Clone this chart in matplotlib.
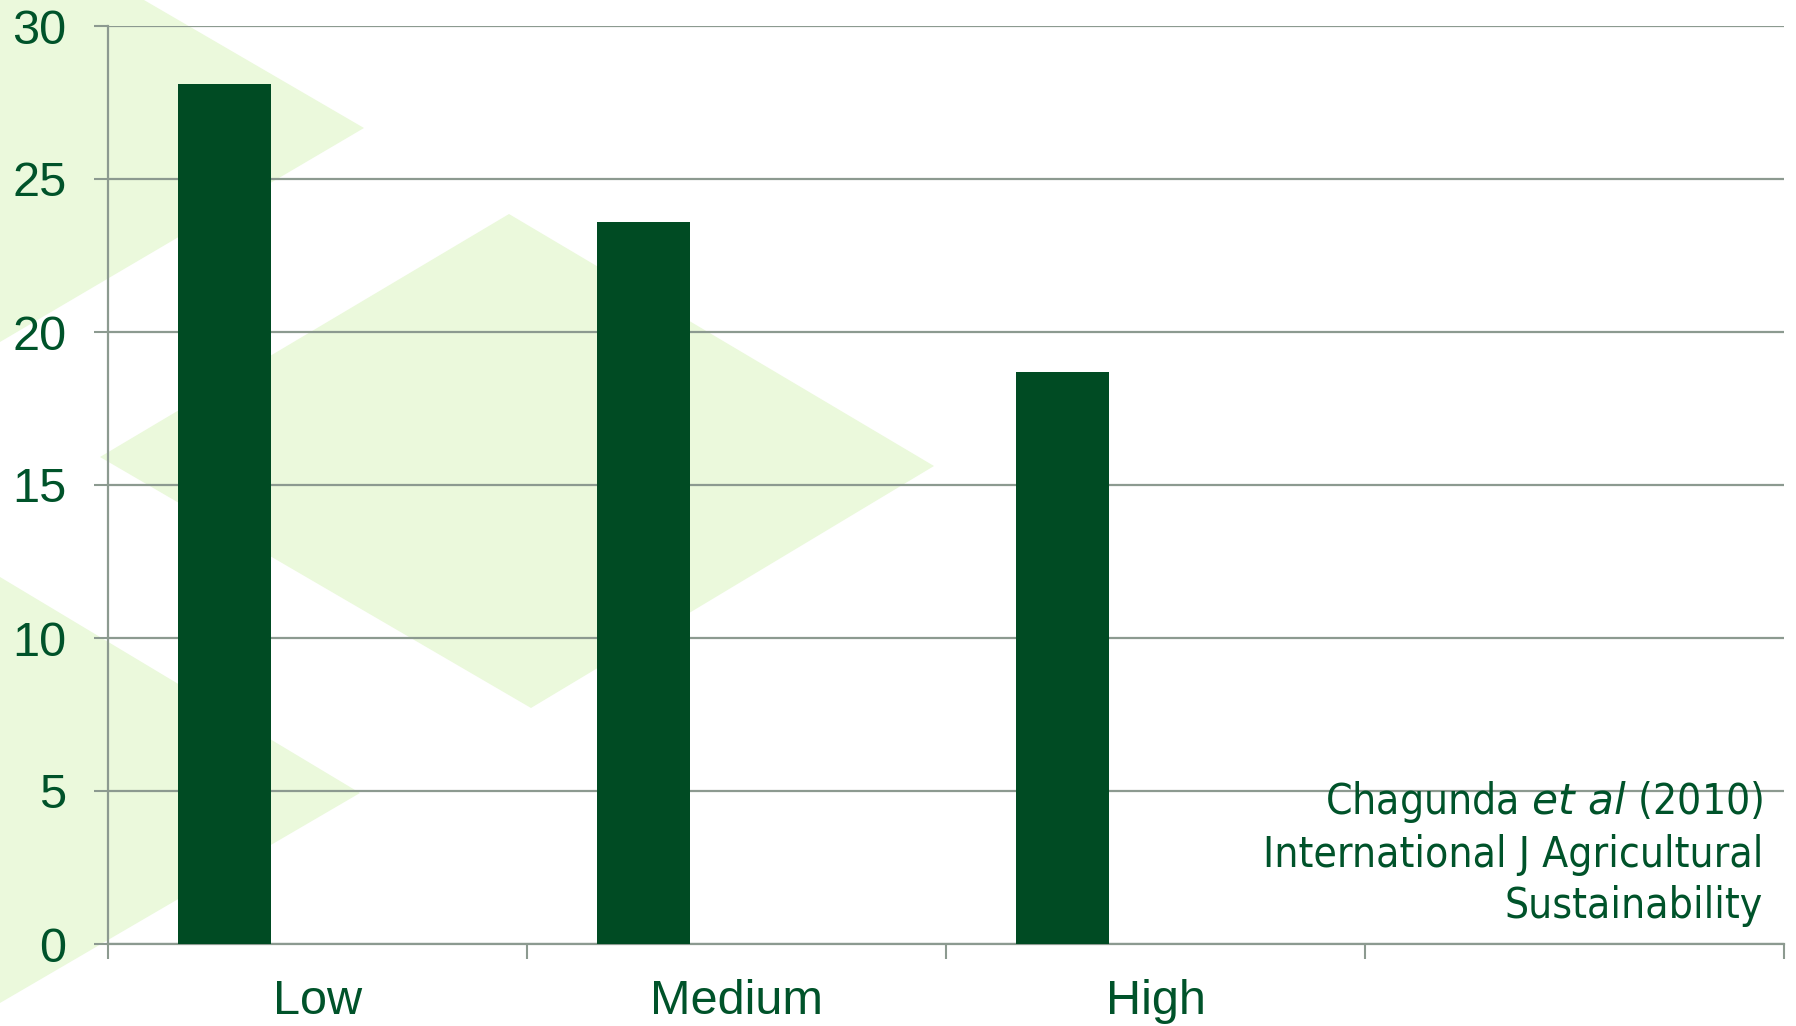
import numpy as np
import matplotlib
matplotlib.use("Agg")
import matplotlib.pyplot as plt
from matplotlib.patches import Polygon

categories = ["Low", "Medium", "High", ""]
values = [28.1, 23.6, 18.7]
yticks = [0, 5, 10, 15, 20, 25, 30]

W, H = 1796, 1026
dark = "#004B23"
text_col = "#00532A"
grid_col = "#8C9A90"
pale = "#EBF9DC"

fig = plt.figure(figsize=(W / 100, H / 100), dpi=100)
fig.patch.set_facecolor("white")


def px(pts):
    # pixel coords (from top left) -> figure fraction
    return [(x / W, 1 - y / H) for x, y in pts]


# pale chevron shapes behind the chart
shapes = [
    [(0, 0), (144, 0), (364, 128), (0, 342)],
    [(509, 214), (934, 466), (531, 708), (100, 457)],
    [(0, 577), (360, 793), (0, 1003)],
]
for s in shapes:
    fig.patches.append(Polygon(px(s), closed=True, transform=fig.transFigure,
                               facecolor=pale, edgecolor="none", zorder=-5))

ax = fig.add_axes([108 / W, 1 - 944 / H, (1784 - 108) / W, (944 - 26) / H])
ax.set_facecolor("none")
ax.set_zorder(1)

x = np.arange(len(values))
bw = 0.222
ax.bar(x - bw, values, width=bw, color=dark, zorder=3)

ax.set_xlim(-0.5, len(categories) - 0.5)
ax.set_ylim(0, 30)
ax.set_yticks(yticks)
ax.set_yticklabels([str(t) for t in yticks])
ax.yaxis.grid(True, color=grid_col, linewidth=1.6, zorder=1)
ax.set_axisbelow(True)

ax.set_xticks(np.arange(len(categories)))
ax.set_xticklabels(categories)
ax.set_xticks(np.arange(len(categories) + 1) - 0.5, minor=True)
ax.tick_params(axis="x", which="major", length=0, pad=25, labelsize=35,
               labelcolor=text_col)
ax.tick_params(axis="x", which="minor", length=11, width=1.5, color=grid_col,
               direction="out")
ax.tick_params(axis="y", length=10, width=1.5, color=grid_col, pad=20,
               labelsize=35, labelcolor=text_col)
for lab in ax.get_xticklabels() + ax.get_yticklabels():
    lab.set_fontfamily("Liberation Sans")

for side in ["top", "right"]:
    ax.spines[side].set_visible(False)
for side in ["left", "bottom"]:
    ax.spines[side].set_color(grid_col)
    ax.spines[side].set_linewidth(1.6)

# source note
note = "Chagunda $\\it{et\\ al}$ (2010)\nInternational J Agricultural\nSustainability"
fig.text(1763 / W, 1 - 918 / H, note, ha="right", va="baseline",
         multialignment="right", fontsize=30.5, color=text_col,
         family="DejaVu Sans", stretch="condensed", linespacing=1.27,
         zorder=5)

fig.savefig("out.png", dpi=100)
